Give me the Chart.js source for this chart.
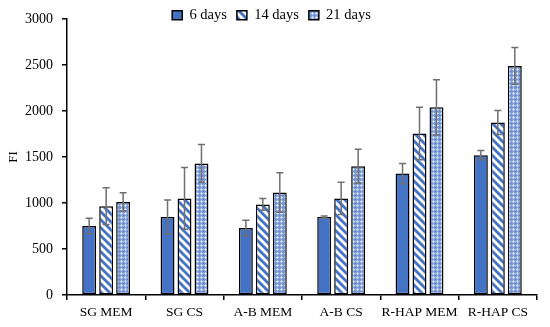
<!DOCTYPE html>
<html>
<head>
<meta charset="utf-8">
<script src="https://cdn.jsdelivr.net/npm/chart.js@4/dist/chart.umd.min.js"></script>
<style>
html,body{margin:0;padding:0;background:#fff;}
#wrap{width:550px;height:327px;}
</style>
</head>
<body>
<div id="wrap"><canvas id="c" width="550" height="327"></canvas></div>
<script>
const categories = ['SG MEM', 'SG CS', 'A-B MEM', 'A-B CS', 'R-HAP MEM', 'R-HAP CS'];
const seriesNames = ['6 days', '14 days', '21 days'];
const days6 = [750, 848, 728, 848, 1320, 1520];
const days14 = [965, 1050, 985, 1050, 1755, 1875];
const days21 = [1012, 1430, 1115, 1400, 2040, 2490];
const err6 = [85, 185, 85, 10, 110, 50];
const err14 = [200, 335, 65, 175, 285, 130];
const err21 = [100, 205, 215, 185, 300, 200];
const yTicks = [0, 500, 1000, 1500, 2000, 2500, 3000];

const BLUE = '#4472C4';

function stripePattern() {
  const n = 8;
  const cv = document.createElement('canvas');
  cv.width = n; cv.height = n;
  const ctx = cv.getContext('2d');
  const img = ctx.createImageData(n, n);
  for (let y = 0; y < n; y++) {
    for (let x = 0; x < n; x++) {
      const d = ((x - y) % n + n) % n;
      const i = (y * n + x) * 4;
      let r = 255, g = 255, b = 255;
      if (d < 3) { r = 0x44; g = 0x72; b = 0xC4; }
      else if (d === 3 || d === 7) { r = 0xA2; g = 0xB9; b = 0xE2; }
      img.data[i] = r; img.data[i+1] = g; img.data[i+2] = b; img.data[i+3] = 255;
    }
  }
  ctx.putImageData(img, 0, 0);
  return ctx.createPattern(cv, 'repeat');
}

function dotPattern() {
  const n = 4;
  const cv = document.createElement('canvas');
  cv.width = n; cv.height = n;
  const ctx = cv.getContext('2d');
  ctx.fillStyle = '#7E9DD6';
  ctx.fillRect(0, 0, n, n);
  ctx.fillStyle = '#B9CBEC';
  ctx.fillRect(0, 1, 3, 1);
  ctx.fillRect(1, 0, 1, 3);
  ctx.fillStyle = '#FFFFFF';
  ctx.fillRect(1, 1, 1, 1);
  ctx.fillStyle = '#5F84C8';
  ctx.fillRect(3, 3, 1, 1);
  return ctx.createPattern(cv, 'repeat');
}

const errs = [err6, err14, err21];

const errorBars = {
  id: 'errorBars',
  afterDatasetsDraw(chart) {
    const ctx = chart.ctx;
    const ys = chart.scales.y;
    ctx.save();
    ctx.strokeStyle = '#6f6f6f';
    ctx.lineWidth = 1.5;
    chart.data.datasets.forEach((ds, di) => {
      const meta = chart.getDatasetMeta(di);
      meta.data.forEach((el, i) => {
        const v = ds.data[i];
        const e = errs[di][i];
        const x = el.x;
        const yt = ys.getPixelForValue(v + e);
        const yb = ys.getPixelForValue(v - e);
        const cap = 3.5;
        ctx.beginPath();
        ctx.moveTo(x, yt); ctx.lineTo(x, yb);
        ctx.moveTo(x - cap, yt); ctx.lineTo(x + cap, yt);
        ctx.moveTo(x - cap, yb); ctx.lineTo(x + cap, yb);
        ctx.stroke();
      });
    });
    ctx.restore();
  }
};

const legendTweak = {
  id: 'legendTweak',
  beforeInit(chart) {
    const lg = chart.legend;
    if (!lg) return;
    const origFit = lg.fit;
    lg.fit = function () {
      origFit.call(this);
      this.height = 19;
    };
    const origDraw = lg.draw;
    lg.draw = function (area) {
      const t = this.top, b = this.bottom, h = this.height;
      this.top = t - 2;
      this.bottom = b + 10;
      this.height = this.bottom - this.top;
      const c = this.ctx;
      c.save();
      c.translate(3, 0);
      origDraw.call(this, area);
      c.restore();
      this.top = t; this.bottom = b; this.height = h;
    };
  }
};

const fills = [BLUE, stripePattern(), dotPattern()];
const values = [days6, days14, days21];

new Chart(document.getElementById('c'), {
  type: 'bar',
  data: {
    labels: categories,
    datasets: seriesNames.map((name, k) => ({
      label: name,
      data: values[k],
      backgroundColor: fills[k],
      borderColor: '#000',
      borderWidth: 1.5,
      borderSkipped: false,
      categoryPercentage: 0.65,
      barPercentage: 0.82
    }))
  },
  options: {
    responsive: false,
    animation: false,
    layout: { padding: { left: 0, right: 13, top: 0, bottom: 0 } },
    plugins: {
      legend: {
        position: 'top',
        labels: {
          color: '#000',
          boxWidth: 10,
          boxHeight: 9,
          padding: 10,
          font: { family: 'Liberation Serif', size: 14.5 }
        }
      },
      tooltip: { enabled: false }
    },
    scales: {
      x: {
        afterFit(s) { s.height = 32; },
        grid: { display: true, drawOnChartArea: false, offset: true, color: '#000', tickLength: 5, lineWidth: 1.5 },
        border: { display: true, color: '#000', width: 1.5 },
        ticks: { color: '#000', padding: 4, font: { family: 'Liberation Serif', size: 13.5 }, maxRotation: 0, autoSkip: false }
      },
      y: {
        min: 0, max: 3000,
        afterFit(s) { s.width = 67; },
        afterBuildTicks(s) { s.ticks = yTicks.map(v => ({ value: v })); },
        grid: { display: true, drawOnChartArea: false, color: '#000', tickLength: 5, lineWidth: 1.5 },
        border: { display: true, color: '#000', width: 1.5 },
        ticks: { color: '#000', padding: 9, font: { family: 'Liberation Serif', size: 14 }, callback: (v) => String(v) },
        title: { display: true, text: 'FI', color: '#000', padding: { top: 6, bottom: 0 }, font: { family: 'Liberation Serif', size: 13 } }
      }
    }
  },
  plugins: [errorBars, legendTweak]
});
</script>
</body>
</html>
